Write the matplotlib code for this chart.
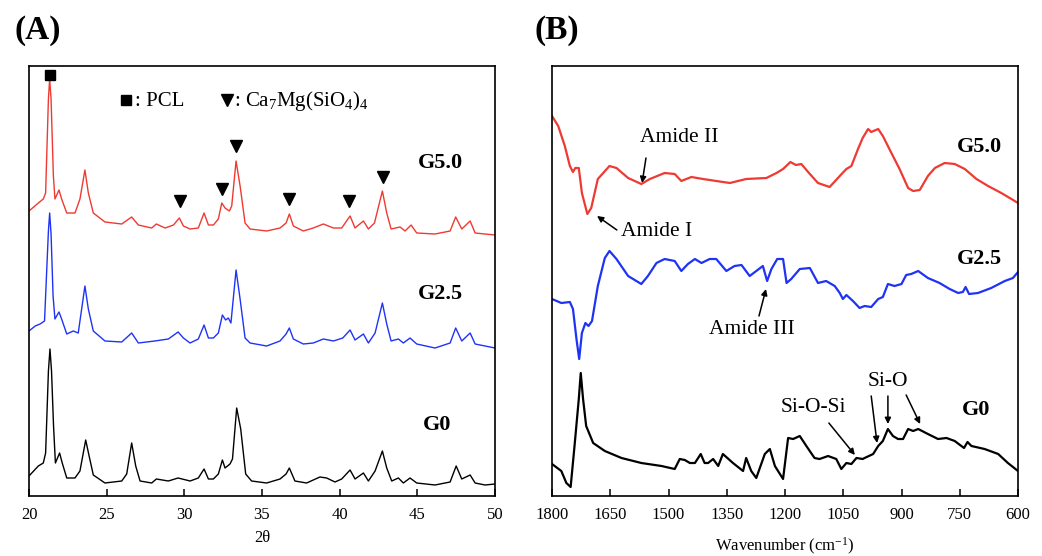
import numpy as np
import matplotlib
matplotlib.use("Agg")
import matplotlib.pyplot as plt

plt.rcParams['font.family'] = ['Liberation Serif', 'DejaVu Serif']
plt.rcParams['mathtext.fontset'] = 'custom'
plt.rcParams['mathtext.rm'] = 'Liberation Serif'
plt.rcParams['mathtext.it'] = 'Liberation Serif:italic'

# ---- (A) XRD, intensity in arbitrary units (curves already offset) ----
xrd_g50_x = [20.0, 20.6, 20.92, 21.07, 21.25, 21.33, 21.42, 21.57, 21.67, 21.93, 22.1, 22.43, 22.96,
             23.28, 23.6, 23.82, 24.14, 24.89, 25.97, 26.61, 27.04, 27.9, 28.2, 28.76, 29.3, 29.68,
             29.94, 30.37, 30.9, 31.27, 31.55, 31.87, 32.19, 32.41, 32.62, 32.9, 33.05, 33.33, 33.59,
             33.91, 34.23, 35.3, 36.16, 36.55, 36.76, 37.02, 37.66, 38.3, 38.95, 39.6, 40.13, 40.67,
             40.99, 41.53, 41.85, 42.24, 42.75, 43.03, 43.31, 43.89, 44.21, 44.6, 44.96, 46.14, 47.11,
             47.47, 47.86, 48.4, 48.72, 49.36, 50.0]
xrd_g50_y = [285, 293, 297, 303, 397, 417, 397, 320, 297, 306, 297, 283, 283,
             297, 326, 303, 283, 274, 272, 279, 271, 268, 272, 268, 271, 278,
             270, 267, 268, 283, 271, 271, 277, 293, 288, 285, 290, 335, 310,
             273, 267, 265, 268, 273, 282, 270, 265, 268, 272, 268, 268, 280,
             268, 275, 267, 273, 305, 283, 267, 269, 265, 271, 263, 262, 265,
             279, 267, 275, 263, 262, 261]

xrd_g25_x = [20.0, 20.4, 20.71, 21.0, 21.25, 21.33, 21.42, 21.55, 21.67, 21.93, 22.1, 22.43, 22.85,
             23.17, 23.6, 23.82, 24.14, 24.89, 25.97, 26.61, 27.04, 28.1, 28.97, 29.6, 29.94, 30.37,
             30.9, 31.27, 31.55, 31.87, 32.19, 32.45, 32.66, 32.83, 33.0, 33.33, 33.59, 33.91, 34.23,
             35.3, 36.16, 36.55, 36.76, 37.02, 37.66, 38.3, 38.95, 39.6, 40.2, 40.67, 40.99, 41.53,
             41.85, 42.28, 42.75, 43.03, 43.31, 43.78, 44.1, 44.53, 44.96, 46.14, 47.11, 47.47, 47.86,
             48.4, 48.72, 49.36, 50.0]
xrd_g25_y = [165, 170, 172, 175, 265, 283, 262, 200, 177, 184, 177, 162, 165,
             163, 210, 187, 165, 155, 154, 163, 153, 155, 157, 164, 158, 153,
             157, 171, 158, 158, 163, 181, 176, 178, 173, 226, 197, 158, 153,
             150, 155, 162, 168, 157, 152, 153, 157, 155, 158, 166, 156, 162,
             153, 163, 193, 172, 155, 157, 153, 158, 152, 148, 153, 168, 155,
             163, 152, 150, 148]

xrd_g0_x = [20.0, 20.6, 20.92, 21.07, 21.25, 21.35, 21.45, 21.58, 21.7, 21.97, 22.14, 22.43, 22.96,
            23.28, 23.65, 23.87, 24.14, 24.89, 25.97, 26.29, 26.61, 26.87, 27.15, 27.9, 28.2, 28.97,
            29.6, 30.37, 30.9, 31.27, 31.55, 31.87, 32.19, 32.45, 32.62, 32.94, 33.1, 33.37, 33.63,
            33.95, 34.33, 35.3, 36.16, 36.55, 36.76, 37.12, 37.87, 38.73, 39.16, 39.7, 40.13, 40.67,
            40.99, 41.53, 41.85, 42.28, 42.75, 43.03, 43.35, 43.78, 44.1, 44.53, 44.96, 46.14, 47.11,
            47.5, 47.86, 48.4, 48.72, 49.36, 50.0]
xrd_g0_y = [20, 30, 33, 43, 125, 147, 125, 70, 33, 43, 33, 18, 18,
            25, 56, 40, 21, 13, 15, 22, 53, 30, 15, 13, 17, 15,
            18, 15, 18, 27, 17, 17, 22, 36, 28, 32, 37, 88, 67,
            22, 15, 13, 17, 22, 28, 15, 13, 19, 18, 14, 17, 26,
            17, 23, 15, 25, 45, 28, 15, 18, 13, 18, 13, 11, 14,
            30, 17, 21, 13, 11, 12]

# phase markers
pcl_peak = [21.35]
pcl_mark_y = [421]
ca_peaks = [29.7, 32.45, 33.33, 36.76, 40.62, 42.77]
ca_mark_y = [295, 307, 350, 297, 295, 319]

# ---- (B) FTIR ----
ir_g50_x = [1800, 1784, 1767, 1754, 1746, 1740, 1731, 1723, 1709, 1699, 1682, 1652, 1634, 1604, 1570,
            1548, 1510, 1484, 1467, 1441, 1411, 1377, 1342, 1300, 1248, 1222, 1205, 1186, 1172, 1158,
            1136, 1115, 1085, 1059, 1042, 1029, 1012, 1000, 986, 978, 960, 948, 926, 905, 883, 870,
            853, 832, 814, 789, 763, 737, 707, 677, 643, 617, 600]
ir_g50_y = [380, 370, 350, 330, 324, 328, 328, 303, 282, 288, 317, 330, 328, 318, 312,
            317, 323, 322, 315, 319, 317, 315, 313, 317, 318, 323, 327, 334, 331, 332,
            322, 313, 309, 320, 327, 330, 347, 358, 367, 364, 367, 360, 343, 327, 308, 305,
            306, 320, 328, 333, 332, 327, 317, 310, 303, 297, 293]

ir_g25_x = [1800, 1776, 1754, 1746, 1737, 1730, 1723, 1714, 1706, 1697, 1682, 1664, 1652, 1634, 1604,
            1570, 1553, 1531, 1510, 1484, 1467, 1450, 1432, 1415, 1394, 1377, 1351, 1330, 1312, 1291,
            1274, 1257, 1246, 1235, 1220, 1205, 1196, 1184, 1162, 1136, 1115, 1094, 1072, 1059, 1051,
            1042, 1025, 1008, 995, 978, 960, 948, 935, 918, 900, 888, 875, 857, 832, 802, 776, 754,
            742, 735, 726, 703, 669, 634, 613, 600]
ir_g25_y = [197, 193, 194, 187, 157, 137, 163, 173, 170, 175, 210, 238, 245, 237, 220,
            212, 220, 233, 237, 235, 225, 232, 237, 233, 237, 237, 225, 230, 231, 220,
            225, 230, 215, 227, 237, 237, 213, 217, 227, 228, 213, 215, 210, 203, 197,
            201, 195, 188, 190, 189, 197, 199, 212, 210, 212, 221, 222, 225, 218, 213, 207, 203,
            204, 209, 202, 203, 208, 215, 218, 224]

ir_g0_x = [1800, 1776, 1763, 1752, 1742, 1731, 1726, 1720, 1712, 1694, 1664, 1621, 1570, 1518, 1484,
           1471, 1458, 1445, 1432, 1417, 1407, 1398, 1385, 1372, 1360, 1334, 1308, 1300, 1287, 1274,
           1252, 1239, 1226, 1205, 1192, 1179, 1162, 1145, 1124, 1111, 1089, 1068, 1055, 1042, 1029,
           1016, 1000, 995, 973, 960, 948, 935, 922, 909, 896, 883, 870, 857, 832, 806, 784, 763,
           739, 730, 720, 686, 651, 626, 600]
ir_g0_y = [32, 25, 13, 9, 50, 97, 123, 97, 70, 53, 45, 38, 33, 30, 27,
           37, 36, 33, 33, 42, 33, 33, 37, 30, 42, 33, 25, 38, 25, 18,
           42, 47, 30, 17, 58, 57, 60, 50, 38, 37, 40, 37, 27, 33, 32,
           38, 37, 38, 42, 50, 55, 67, 60, 57, 57, 67, 65, 67, 62, 57, 58, 55,
           48, 54, 50, 47, 42, 33, 25]

red = '#ee3a32'
blue = '#1f33f5'

fig = plt.figure(figsize=(10.42, 5.56), dpi=100)
axA = fig.add_axes([29 / 1042, 60 / 556, 466 / 1042, 430 / 556])
axB = fig.add_axes([552 / 1042, 60 / 556, 466 / 1042, 430 / 556])

for ax in (axA, axB):
    for s in ax.spines.values():
        s.set_linewidth(1.2)
    ax.set_yticks([])
    ax.tick_params(axis='x', direction='in', length=5, width=1.1, labelsize=12, pad=8, top=False)
    ax.set_ylim(0, 430)

# (A)
axA.plot(xrd_g50_x, xrd_g50_y, color=red, lw=1.0)
axA.plot(xrd_g25_x, xrd_g25_y, color=blue, lw=1.0)
axA.plot(xrd_g0_x, xrd_g0_y, color='black', lw=1.0)
axA.plot(pcl_peak, pcl_mark_y, 's', color='black', ms=6.5)
axA.plot(ca_peaks, ca_mark_y, 'v', color='black', ms=8.5)
axA.set_xlim(20, 50)
axA.set_xticks(np.arange(20, 51, 5))
axA.set_xlabel('2θ', fontsize=12, labelpad=5)

# legend drawn inside the plot
axA.plot([26.25], [396], 's', color='black', ms=6.5)
axA.text(26.8, 390, ': PCL', fontsize=15, va='baseline', ha='left')
axA.plot([32.75], [396], 'v', color='black', ms=8.5)
axA.text(33.2, 390, r': Ca$_7$Mg(SiO$_4$)$_4$', fontsize=15, va='baseline', ha='left')

axA.text(46.5, 333, 'G5.0', fontsize=16, fontweight='bold', ha='center', va='center')
axA.text(46.5, 202, 'G2.5', fontsize=16, fontweight='bold', ha='center', va='center')
axA.text(46.3, 71, 'G0', fontsize=16, fontweight='bold', ha='center', va='center')

# (B)
axB.plot(ir_g50_x, ir_g50_y, color=red, lw=1.6)
axB.plot(ir_g25_x, ir_g25_y, color=blue, lw=1.6)
axB.plot(ir_g0_x, ir_g0_y, color='black', lw=1.6)
axB.set_xlim(1800, 600)
axB.set_xticks(np.arange(1800, 599, -150))
axB.set_xlabel('Wavenumber (cm$^{-1}$)', fontsize=12, labelpad=9)

axB.text(699, 349, 'G5.0', fontsize=16, fontweight='bold', ha='center', va='center')
axB.text(699, 237, 'G2.5', fontsize=16, fontweight='bold', ha='center', va='center')
axB.text(708, 86, 'G0', fontsize=16, fontweight='bold', ha='center', va='center')

arrow = dict(arrowstyle='-|>', color='black', lw=1.1, mutation_scale=9, shrinkA=0, shrinkB=0)
axB.text(1473, 358, 'Amide II', fontsize=15.5, ha='center', va='center')
axB.annotate('', xy=(1568, 313), xytext=(1558, 338), arrowprops=arrow)
axB.text(1531, 264, 'Amide I', fontsize=15.5, ha='center', va='center')
axB.annotate('', xy=(1684, 280), xytext=(1633, 266), arrowprops=arrow)
axB.text(1285, 166, 'Amide III', fontsize=15.5, ha='center', va='center')
axB.annotate('', xy=(1249, 207), xytext=(1267, 180), arrowprops=arrow)
axB.text(1128, 88, 'Si-O-Si', fontsize=15.5, ha='center', va='center')
axB.annotate('', xy=(1020, 41), xytext=(1087, 73), arrowprops=arrow)
axB.text(936, 114, 'Si-O', fontsize=15.5, ha='center', va='center')
axB.annotate('', xy=(963, 53), xytext=(978, 100), arrowprops=arrow)
axB.annotate('', xy=(935, 72), xytext=(935, 100), arrowprops=arrow)
axB.annotate('', xy=(852, 72), xytext=(888, 101), arrowprops=arrow)

fig.text(38 / 1042, 1 - 30 / 556, '(A)', fontsize=24, fontweight='bold', ha='center', va='center')
fig.text(557 / 1042, 1 - 30 / 556, '(B)', fontsize=24, fontweight='bold', ha='center', va='center')

fig.savefig('out.png', dpi=100)
